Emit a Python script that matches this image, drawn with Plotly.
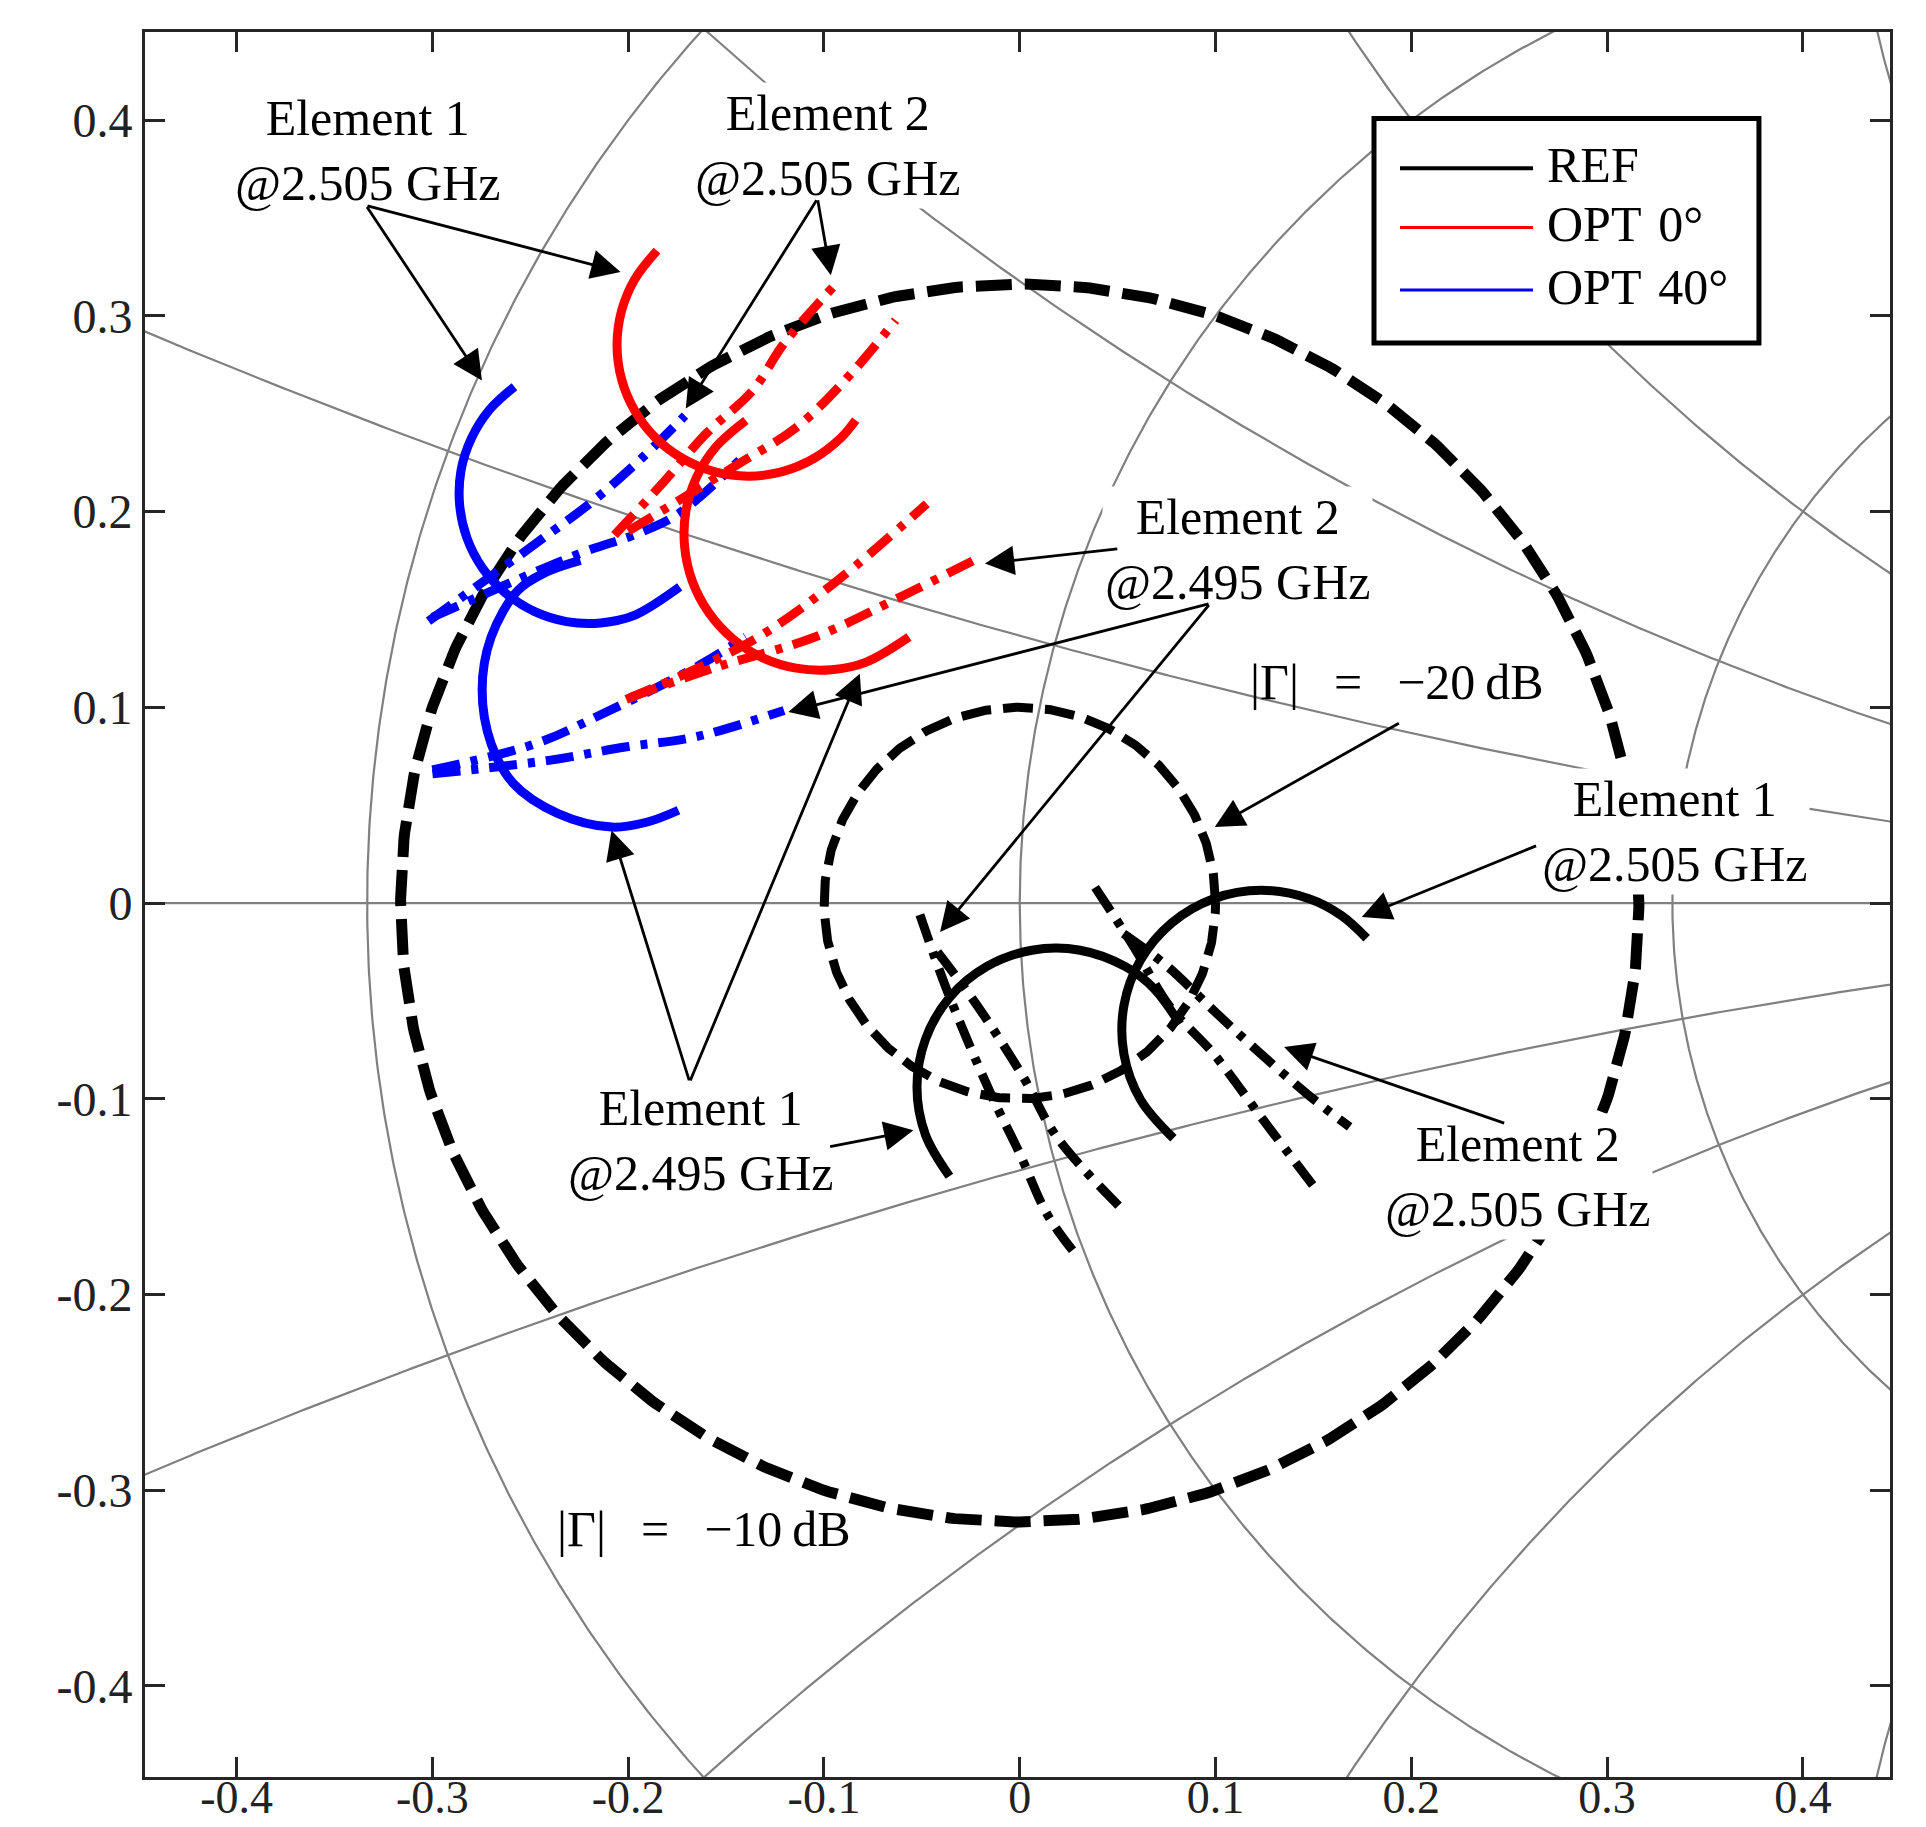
import numpy as np
import plotly.graph_objects as go

# ---------------- Smith chart grid values ----------------
R_CIRCLES = [0.5, 1.0, 2.0]                 # constant-resistance circles
X_ARCS = [0.268, 0.577, 1.0, 1.732]         # constant-reactance arcs (+/-)

# |Gamma| contours (dB)
GAMMA_DB = [-10, -20]

# ---------------- Element 1 loci (solid) ----------------
ref_e1_2495_x = [-0.0359, -0.0482, -0.0525, -0.0482, -0.0359, -0.0170, 0.0062, 0.0308, 0.0540, 0.0687, 0.0818]
ref_e1_2495_y = [-0.1396, -0.1183, -0.0940, -0.0697, -0.0483, -0.0325, -0.0241, -0.0241, -0.0325, -0.0438, -0.0618]
ref_e1_2505_x = [0.0785, 0.0617, 0.0532, 0.0532, 0.0617, 0.0776, 0.0990, 0.1234, 0.1478, 0.1643, 0.1772]
ref_e1_2505_y = [-0.1202, -0.1005, -0.0772, -0.0524, -0.0291, -0.0102, 0.0022, 0.0065, 0.0022, -0.0064, -0.0180]

opt0_e1_2505_x = [-0.1853, -0.1967, -0.2034, -0.2057, -0.2034, -0.1967, -0.1861, -0.1722, -0.1561, -0.1387, -0.1213, -0.1052, -0.0913, -0.0838]
opt0_e1_2505_y = [0.3333, 0.3186, 0.3025, 0.2851, 0.2677, 0.2516, 0.2377, 0.2271, 0.2204, 0.2181, 0.2204, 0.2271, 0.2377, 0.2467]
opt0_e1_2495_x = [-0.1399, -0.1553, -0.1650, -0.1705, -0.1712, -0.1673, -0.1589, -0.1467, -0.1315, -0.1142, -0.0961, -0.0784, -0.0566]
opt0_e1_2495_y = [0.2465, 0.2329, 0.2177, 0.2004, 0.1823, 0.1646, 0.1485, 0.1351, 0.1254, 0.1200, 0.1192, 0.1231, 0.1359]

opt40_e1_2505_x = [-0.2581, -0.2708, -0.2801, -0.2854, -0.2861, -0.2824, -0.2744, -0.2627, -0.2480, -0.2315, -0.2141, -0.1972, -0.1737]
opt40_e1_2505_y = [0.2638, 0.2521, 0.2374, 0.2209, 0.2035, 0.1866, 0.1711, 0.1584, 0.1490, 0.1438, 0.1431, 0.1468, 0.1615]
opt40_e1_2495_x = [-0.2244, -0.2420, -0.2563, -0.2700, -0.2746, -0.2700, -0.2586, -0.2358, -0.2085, -0.1902, -0.1743]
opt40_e1_2495_y = [0.1751, 0.1690, 0.1597, 0.1359, 0.1087, 0.0814, 0.0610, 0.0457, 0.0388, 0.0414, 0.0474]

# ---------------- Element 2 loci (dash-dot) ----------------
ref_e2_2495a_x = [-0.0510, -0.0370, -0.0150, 0.0000, 0.0140, 0.0290]
ref_e2_2495a_y = [-0.0060, -0.0450, -0.0970, -0.1280, -0.1590, -0.1800]
ref_e2_2495b_x = [-0.0420, -0.0220, 0.0018, 0.0189, 0.0512]
ref_e2_2495b_y = [-0.0250, -0.0520, -0.0889, -0.1195, -0.1553]
ref_e2_2505a_x = [0.0385, 0.0580, 0.0768, 0.0989, 0.1245, 0.1517]
ref_e2_2505a_y = [0.0080, -0.0220, -0.0531, -0.0769, -0.1110, -0.1468]
ref_e2_2505b_x = [0.0530, 0.0750, 0.0989, 0.1193, 0.1466, 0.1685]
ref_e2_2505b_y = [-0.0156, -0.0320, -0.0548, -0.0736, -0.0974, -0.1144]

opt0_e2_2505a_x = [-0.2070, -0.1820, -0.1600, -0.1364, -0.1204, -0.0954]
opt0_e2_2505a_y = [0.1880, 0.2150, 0.2400, 0.2619, 0.2859, 0.3147]
opt0_e2_2505b_x = [-0.2000, -0.1434, -0.1138, -0.0862, -0.0634]
opt0_e2_2505b_y = [0.1900, 0.2245, 0.2432, 0.2704, 0.2977]
opt0_e2_2495a_x = [-0.2010, -0.1364, -0.0931, -0.0475]
opt0_e2_2495a_y = [0.1040, 0.1342, 0.1648, 0.2040]
opt0_e2_2495b_x = [-0.1990, -0.1546, -0.1046, -0.0611, -0.0201]
opt0_e2_2495b_y = [0.1050, 0.1206, 0.1359, 0.1563, 0.1768]

opt40_e2_2505a_x = [-0.3020, -0.2473, -0.2176, -0.1925, -0.1710]
opt40_e2_2505a_y = [0.1440, 0.1836, 0.2057, 0.2278, 0.2490]
opt40_e2_2505b_x = [-0.3000, -0.2246, -0.1950, -0.1743, -0.1432]
opt40_e2_2505b_y = [0.1460, 0.1786, 0.1888, 0.1989, 0.2262]
opt40_e2_2495a_x = [-0.3000, -0.2473, -0.2130, -0.1652, -0.1400]
opt40_e2_2495a_y = [0.0680, 0.0814, 0.0967, 0.1206, 0.1360]
opt40_e2_2495b_x = [-0.3000, -0.2404, -0.2016, -0.1660, -0.1204]
opt40_e2_2495b_y = [0.0660, 0.0729, 0.0797, 0.0848, 0.0984]

# ---------------- axis ticks ----------------
TICK_VALS = [-0.4, -0.3, -0.2, -0.1, 0.0, 0.1, 0.2, 0.3, 0.4]
TICK_TEXT = ["-0.4", "-0.3", "-0.2", "-0.1", "0", "0.1", "0.2", "0.3", "0.4"]

SERIF = "Liberation Serif"
GRID_COLOR = "#808080"
DASH = "36px,13px"
DASH_SMALL = "30px,12px"
DASHDOT = "28px,11px,7px,11px"

fig = go.Figure()


def add_line(xs, ys, color, width, dash="solid", shape="linear"):
    fig.add_trace(go.Scatter(
        x=xs, y=ys, mode="lines",
        line=dict(color=color, width=width, dash=dash, shape=shape),
        hoverinfo="skip", showlegend=False))


# Smith chart grid: real axis, resistance circles, reactance arcs
add_line([-1, 1], [0, 0], GRID_COLOR, 2.2)
t = np.linspace(-np.pi / 2 * 0.999, np.pi / 2 * 0.999, 900)
for r in R_CIRCLES:
    z = r + 1j * np.tan(t)
    g = (z - 1) / (z + 1)
    add_line(g.real, g.imag, GRID_COLOR, 2.2)
s = np.linspace(0, np.pi / 2 * 0.999, 900)
for xv in X_ARCS:
    for sign in (1, -1):
        z = np.tan(s) + 1j * sign * xv
        g = (z - 1) / (z + 1)
        add_line(g.real, g.imag, GRID_COLOR, 2.2)

# |Gamma| contours drawn from their dB values
th = np.linspace(0, 2 * np.pi, 721)
for db, w, d in zip(GAMMA_DB, [11, 9], [DASH, DASH_SMALL]):
    rad = 10 ** (db / 20)
    add_line(rad * np.cos(th), rad * np.sin(th), "black", w, d)

# Element 2 (dash-dot)
for xs, ys in [(opt40_e2_2505a_x, opt40_e2_2505a_y), (opt40_e2_2505b_x, opt40_e2_2505b_y),
               (opt40_e2_2495a_x, opt40_e2_2495a_y), (opt40_e2_2495b_x, opt40_e2_2495b_y)]:
    add_line(xs, ys, "#0000ff", 9, DASHDOT, "spline")
for xs, ys in [(opt0_e2_2505a_x, opt0_e2_2505a_y), (opt0_e2_2505b_x, opt0_e2_2505b_y),
               (opt0_e2_2495a_x, opt0_e2_2495a_y), (opt0_e2_2495b_x, opt0_e2_2495b_y)]:
    add_line(xs, ys, "#ff0000", 9, DASHDOT, "spline")
for xs, ys in [(ref_e2_2495a_x, ref_e2_2495a_y), (ref_e2_2495b_x, ref_e2_2495b_y),
               (ref_e2_2505a_x, ref_e2_2505a_y), (ref_e2_2505b_x, ref_e2_2505b_y)]:
    add_line(xs, ys, "black", 9, DASHDOT, "spline")

# Element 1 (solid)
add_line(opt40_e1_2505_x, opt40_e1_2505_y, "#0000ff", 9, "solid", "spline")
add_line(opt40_e1_2495_x, opt40_e1_2495_y, "#0000ff", 9, "solid", "spline")
add_line(opt0_e1_2505_x, opt0_e1_2505_y, "#ff0000", 9, "solid", "spline")
add_line(opt0_e1_2495_x, opt0_e1_2495_y, "#ff0000", 9, "solid", "spline")
add_line(ref_e1_2495_x, ref_e1_2495_y, "black", 9, "solid", "spline")
add_line(ref_e1_2505_x, ref_e1_2505_y, "black", 9, "solid", "spline")

# ---------------- annotations ----------------
labels = [
    (-0.333, 0.3843, "Element 1<br>@2.505 GHz", True),
    (-0.0982, 0.3871, "Element 2<br>@2.505 GHz", True),
    (0.111, 0.1807, "Element 2<br>@2.495 GHz", True),
    (0.3343, 0.0364, "Element 1<br>@2.505 GHz", True),
    (-0.1633, -0.1211, "Element 1<br>@2.495 GHz", True),
    (0.254, -0.1399, "Element 2<br>@2.505 GHz", True),
    (0.1925, 0.1129, "|Γ|\u2002\u2009=\u2002\u2009\u221220\u2009dB", False),
    (-0.1613, -0.320, "|Γ|\u2002\u2009=\u2002\u2009\u221210\u2009dB", False),
]
annotations = []
for x, y, txt, bg in labels:
    annotations.append(dict(
        x=x, y=y, xref="x", yref="y", text=txt, showarrow=False,
        font=dict(family=SERIF, size=50, color="black"),
        bgcolor="white" if bg else "rgba(0,0,0,0)", borderpad=2, align="center"))

# arrows: (tail x, tail y, head x, head y)
arrows = [
    (-0.3339, 0.3564, -0.2039, 0.3224),
    (-0.3339, 0.3564, -0.2747, 0.2670),
    (-0.1033, 0.3598, -0.0965, 0.3207),
    (-0.1033, 0.3598, -0.1706, 0.2526),
    (0.0506, 0.1810, -0.0178, 0.1734),
    (0.0972, 0.1530, -0.1182, 0.0976),
    (0.0972, 0.1530, -0.0407, -0.0148),
    (0.1944, 0.0923, 0.0996, 0.0388),
    (0.2645, 0.0295, 0.1747, -0.0071),
    (-0.1686, -0.0914, -0.2085, 0.0371),
    (-0.1686, -0.0914, -0.0817, 0.1172),
    (-0.0976, -0.1246, -0.0543, -0.1161),
    (0.2482, -0.1127, 0.1350, -0.0736),
]
for tx, ty, hx, hy in arrows:
    annotations.append(dict(
        x=hx, y=hy, ax=tx, ay=ty, xref="x", yref="y", axref="x", ayref="y",
        text="", showarrow=True, arrowhead=2, arrowsize=2.1, arrowwidth=2.8,
        arrowcolor="black", standoff=0, startstandoff=0))

# ---------------- legend box ----------------
legend_items = [("REF", "black", 4), ("OPT\u20040°", "#ff0000", 3), ("OPT\u200440°", "#0000ff", 3)]
shapes = [dict(type="rect", xref="paper", yref="paper", x0=0.7043, x1=0.9249, y0=0.8218, y1=0.9505,
               line=dict(color="black", width=5), fillcolor="white", layer="above")]
leg_line_y = [0.9219, 0.8879, 0.8521]
for (name, col, w), ly in zip(legend_items, leg_line_y):
    shapes.append(dict(type="line", xref="paper", yref="paper", x0=0.7192, x1=0.7954, y0=ly, y1=ly,
                       line=dict(color=col, width=w), layer="above"))
    annotations.append(dict(x=0.8023, y=ly + 0.002, xref="paper", yref="paper", text=name,
                            showarrow=False, xanchor="left", yanchor="middle",
                            font=dict(family=SERIF, size=50, color="black")))

axis_common = dict(
    tickvals=TICK_VALS, ticktext=TICK_TEXT, showgrid=False, zeroline=False,
    ticks="inside", ticklen=20, tickwidth=2.5, tickcolor="#262626",
    showline=True, linecolor="#262626", linewidth=3, mirror="ticks",
    automargin=False)

fig.update_layout(
    width=1926, height=1827,
    margin=dict(l=145, r=36, t=32, b=50, autoexpand=False),
    paper_bgcolor="white", plot_bgcolor="white",
    xaxis=dict(range=[-0.4468, 0.4445], ticklabelstandoff=-22,
               tickfont=dict(family=SERIF, size=46, color="#222222"), **axis_common),
    yaxis=dict(range=[-0.4465, 0.4450],
               tickfont=dict(family=SERIF, size=48, color="#222222"), **axis_common),
    annotations=annotations, shapes=shapes, showlegend=False)

fig.write_html("out.html")
